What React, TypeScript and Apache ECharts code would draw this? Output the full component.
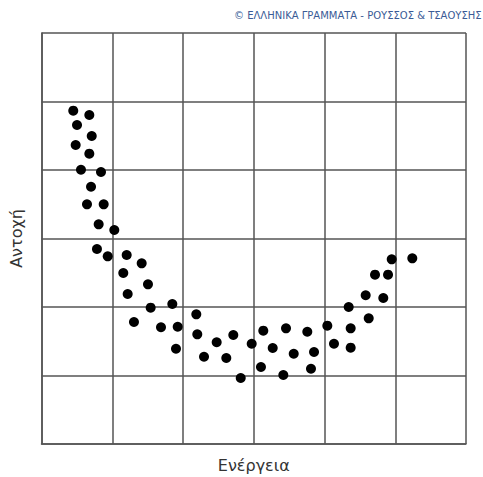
import React, { useEffect, useRef } from "react";
import * as echarts from "echarts";

// Energy (x) values, arbitrary units (each grid cell = 10)
const energy: number[] = [
  4.49, 6.76, 5.02, 7.1, 4.83, 6.76, 5.58, 8.41, 7.0, 6.43,
  8.79, 8.08, 10.29, 7.84, 9.36, 12.04, 14.16, 11.56, 15.05, 12.18,
  18.49, 15.43, 21.88, 13.07, 16.89, 19.25, 22.02, 24.76, 27.11, 19.01,
  29.71, 31.35, 34.56, 22.97, 26.12, 32.68, 35.65, 31.02, 34.18, 28.16,
  37.57, 38.52, 38.09, 40.4, 41.34, 43.7, 43.7, 43.42, 46.25, 45.82,
  48.31, 47.14, 48.98, 49.5, 52.41,
];
// Strength (y) values
const strength: number[] = [
  48.66, 48.03, 46.57, 44.96, 43.65, 42.38, 40.04, 39.71, 37.56, 34.99,
  34.99, 32.07, 31.24, 28.47, 27.4, 27.59, 26.38, 24.96, 23.31, 21.9,
  20.44, 19.9, 18.93, 17.81, 17.04, 17.12, 16.01, 14.85, 15.91, 13.91,
  14.64, 16.54, 16.89, 12.74, 12.55, 14.01, 13.18, 11.24, 10.07, 9.64,
  16.39, 13.43, 10.99, 17.27, 14.64, 16.89, 14.06, 20.0, 18.35, 21.71,
  21.31, 24.72, 24.72, 26.96, 27.11,
];

const xAxisName = "Ενέργεια";
const yAxisName = "Αντοχή";
const credit = "© ΕΛΛΗΝΙΚΑ ΓΡΑΜΜΑΤΑ - ΡΟΥΣΣΟΣ & ΤΣΑΟΥΣΗΣ";

export default function App() {
  const ref = useRef<HTMLDivElement>(null);
  useEffect(() => {
    if (!ref.current) return;
    const chart = echarts.init(ref.current, undefined, { renderer: "svg" });
    const lineStyle = { color: "#555", width: 1.5 };
    chart.setOption({
      animation: false,
      backgroundColor: "#ffffff",
      textStyle: { fontFamily: "DejaVu Sans, sans-serif" },
      grid: {
        left: 41.5,
        right: 17,
        top: 33,
        bottom: 33,
        containLabel: false,
        outerBoundsMode: "none",
      },
      graphic: [
        {
          type: "text",
          left: 234,
          top: 10,
          style: {
            text: credit,
            fill: "#3a5b96",
            font: "10px 'DejaVu Sans', sans-serif",
          },
        },
      ],
      xAxis: {
        type: "value",
        min: 0,
        max: 60,
        interval: 10,
        name: xAxisName,
        nameLocation: "middle",
        nameGap: 13,
        nameTextStyle: { fontSize: 16, color: "#333", fontFamily: "DejaVu Sans, sans-serif" },
        axisLine: { show: true, lineStyle },
        axisTick: { show: false },
        axisLabel: { show: false },
        splitLine: { show: true, lineStyle },
      },
      yAxis: {
        type: "value",
        min: 0,
        max: 60,
        interval: 10,
        name: yAxisName,
        nameLocation: "middle",
        nameGap: 17,
        nameRotate: 90,
        nameTextStyle: { fontSize: 16, color: "#333", fontFamily: "DejaVu Sans, sans-serif" },
        axisLine: { show: true, lineStyle },
        axisTick: { show: false },
        axisLabel: { show: false },
        splitLine: { show: true, lineStyle },
      },
      series: [
        {
          type: "scatter",
          data: energy.map((x, i) => [x, strength[i]]),
          symbol: "circle",
          symbolSize: 10,
          itemStyle: { color: "#000", opacity: 1 },
        },
      ],
    });
    return () => chart.dispose();
  }, []);
  return (
    <div
      ref={ref}
      style={{ position: "absolute", left: 0, top: 0, width: 483, height: 477 }}
    />
  );
}
